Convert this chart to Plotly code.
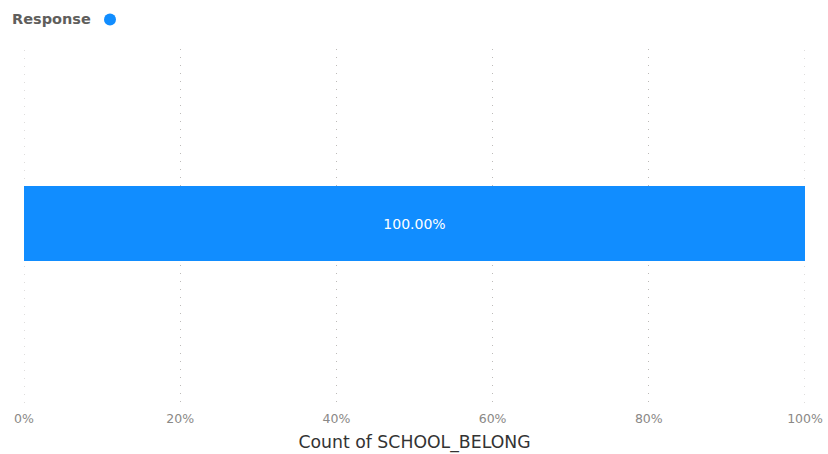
import plotly.graph_objects as go

# Share of responses for the single survey category
categories = [""]
shares = [1.0]
share_labels = ["100.00%"]
legend_title = "Response"
axis_title = "Count of SCHOOL_BELONG"
tick_values = [0, 0.2, 0.4, 0.6, 0.8, 1.0]
tick_text = ["0%", "20%", "40%", "60%", "80%", "100%"]

BLUE = "#118DFF"
GRID = "#BDBBB9"
GRID_DASH = "1px,7px"

fig = go.Figure()
fig.add_trace(go.Bar(
    y=categories,
    x=shares,
    orientation="h",
    marker=dict(color=BLUE, line=dict(width=0)),
    width=0.212,
    text=share_labels,
    textposition="inside",
    insidetextanchor="middle",
    textfont=dict(color="#FFFFFF", size=14, family="DejaVu Sans"),
    showlegend=False,
    hoverinfo="skip",
))
# Legend entry: a circle marker with no label
fig.add_trace(go.Scatter(
    x=[None], y=[None], mode="markers",
    marker=dict(symbol="circle", size=12, color=BLUE),
    name="", showlegend=True,
))

# Plotly skips gridlines on the very edges of the range, so draw those two
for v in (tick_values[0], tick_values[-1]):
    fig.add_shape(
        type="line", xref="x", yref="paper", x0=v, x1=v, y0=0, y1=1,
        line=dict(color=GRID, width=1, dash=GRID_DASH), layer="below",
    )

# Legend heading, placed just left of the legend marker
fig.add_annotation(
    text="<b>" + legend_title + "</b>", xref="paper", yref="paper",
    x=-14 / 781, y=1 + 30 / 354, xanchor="left", yanchor="middle",
    showarrow=False, font=dict(size=14.5, color="#605E5C"),
)

fig.update_layout(
    width=828, height=454,
    margin=dict(l=24, r=23, t=49, b=51),
    paper_bgcolor="white", plot_bgcolor="white",
    font=dict(family="DejaVu Sans", color="#605E5C"),
    showlegend=True,
    legend=dict(
        orientation="h", x=90 / 828, y=1 - 5 / 454, xref="container", yref="container",
        xanchor="left", yanchor="top",
        font=dict(size=12), itemwidth=30, tracegroupgap=0,
        bgcolor="rgba(0,0,0,0)",
    ),
    xaxis=dict(
        range=[0, 1], tickvals=tick_values, ticktext=tick_text,
        showgrid=True, gridcolor=GRID, griddash=GRID_DASH, gridwidth=1,
        zeroline=False, showline=False, ticks="",
        tickfont=dict(size=12.5, color="#8A8886"),
        ticklabelstandoff=6,
        title=dict(text=axis_title, font=dict(size=17.3, color="#333333"), standoff=11),
        automargin=False,
        fixedrange=True,
    ),
    yaxis=dict(
        showticklabels=False, showgrid=False, zeroline=False, showline=False,
        range=[-0.507, 0.493], fixedrange=True, automargin=False,
    ),
)

fig.write_html("out.html")
